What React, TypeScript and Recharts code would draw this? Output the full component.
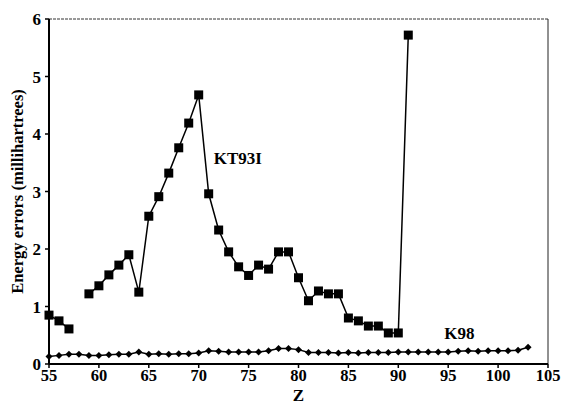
import React from "react"
import {
  LineChart,
  Line,
  XAxis,
  YAxis,
  ReferenceLine,
  ReferenceDot,
} from "recharts"

// atomic number Z
const zValues = [
  55, 56, 57, 58, 59, 60, 61, 62, 63, 64, 65, 66, 67, 68, 69, 70, 71, 72, 73, 74,
  75, 76, 77, 78, 79, 80, 81, 82, 83, 84, 85, 86, 87, 88, 89, 90, 91, 92, 93, 94,
  95, 96, 97, 98, 99, 100, 101, 102, 103,
]

// KT93I energy errors (millihartrees), null where no point is shown
const kt93i = [
  0.85, 0.75, 0.61, null, 1.22, 1.36, 1.55, 1.72, 1.9, 1.25, 2.57, 2.91, 3.32,
  3.76, 4.19, 4.68, 2.96, 2.33, 1.95, 1.69, 1.54, 1.72, 1.65, 1.95, 1.95, 1.5,
  1.1, 1.27, 1.22, 1.22, 0.8, 0.75, 0.66, 0.66, 0.54, 0.54, 5.72,
]

// K98 energy errors (millihartrees)
const k98 = [
  0.13, 0.15, 0.17, 0.17, 0.15, 0.15, 0.16, 0.17, 0.17, 0.21, 0.17, 0.18, 0.17,
  0.18, 0.18, 0.19, 0.23, 0.22, 0.21, 0.21, 0.21, 0.21, 0.23, 0.27, 0.27, 0.25,
  0.2, 0.2, 0.2, 0.19, 0.2, 0.19, 0.2, 0.2, 0.2, 0.21, 0.21, 0.21, 0.21, 0.21,
  0.21, 0.22, 0.23, 0.22, 0.23, 0.23, 0.23, 0.24, 0.29,
]

const xTicks = [55, 60, 65, 70, 75, 80, 85, 90, 95, 100, 105]
const yTicks = [0, 1, 2, 3, 4, 5, 6]

const data = zValues.map((z, i) => ({
  z,
  kt93i: i < kt93i.length ? kt93i[i] : null,
  k98: k98[i],
}))

const FONT = "'Liberation Serif', 'Times New Roman', serif"
const tickStyle = { fontSize: 17, fontWeight: 700, fill: "#000", fontFamily: FONT }

function SquareDot(props: any) {
  const { cx, cy, value } = props
  if (value == null || cx == null || cy == null) return null
  return <rect x={cx - 4.5} y={cy - 4.5} width={9} height={9} fill="#000" />
}

function DiamondDot(props: any) {
  const { cx, cy } = props
  if (cx == null || cy == null) return null
  return (
    <polygon
      points={`${cx},${cy - 3.5} ${cx + 3.5},${cy} ${cx},${cy + 3.5} ${cx - 3.5},${cy}`}
      fill="#000"
    />
  )
}

function seriesLabel(text: string) {
  return (props: any) => {
    const { viewBox } = props
    return (
      <text
        x={viewBox.x}
        y={viewBox.y + 6}
        fontSize={17}
        fontWeight={700}
        fontFamily={FONT}
        fill="#000"
        textAnchor="start"
      >
        {text}
      </text>
    )
  }
}

export default function App() {
  return (
    <div style={{ position: "absolute", left: 0, top: 0, background: "#fff" }}>
      <LineChart
        width={562}
        height={404}
        data={data}
        margin={{ top: 19, right: 14, bottom: 0, left: 0 }}
      >
        <XAxis
          dataKey="z"
          type="number"
          domain={[55, 105]}
          ticks={xTicks}
          interval={0}
          height={40}
          tick={{ ...tickStyle, fontSize: 16.5 }}
          tickSize={4}
          tickMargin={1}
          axisLine={{ stroke: "#000", strokeWidth: 2 }}
          tickLine={{ stroke: "#000", strokeWidth: 1.5 }}
          label={{
            value: "Z",
            position: "insideBottom",
            offset: 3,
            style: { ...tickStyle, fontSize: 17 },
          }}
        />
        <YAxis
          type="number"
          domain={[0, 6]}
          ticks={yTicks}
          interval={0}
          width={49}
          tick={tickStyle}
          tickSize={4}
          tickMargin={4}
          axisLine={{ stroke: "#000", strokeWidth: 2 }}
          tickLine={{ stroke: "#000", strokeWidth: 1.5 }}
          label={{
            value: "Energy errors (millihartrees)",
            angle: -90,
            position: "insideLeft",
            offset: 17,
            style: { ...tickStyle, fontSize: 16.5, textAnchor: "middle" },
          }}
        />
        <ReferenceLine y={6} stroke="#333" strokeWidth={1} strokeDasharray="3 1" />
        <ReferenceLine x={105} stroke="#222" strokeWidth={1} />
        <Line
          dataKey="kt93i"
          stroke="#000"
          strokeWidth={1.5}
          dot={<SquareDot />}
          activeDot={false}
          connectNulls={false}
          isAnimationActive={false}
        />
        <Line
          dataKey="k98"
          stroke="#000"
          strokeWidth={1.5}
          dot={<DiamondDot />}
          activeDot={false}
          isAnimationActive={false}
        />
        <ReferenceDot x={71.5} y={3.58} r={0} label={seriesLabel("KT93I")} />
        <ReferenceDot x={94.6} y={0.54} r={0} label={seriesLabel("K98")} />
      </LineChart>
    </div>
  )
}
